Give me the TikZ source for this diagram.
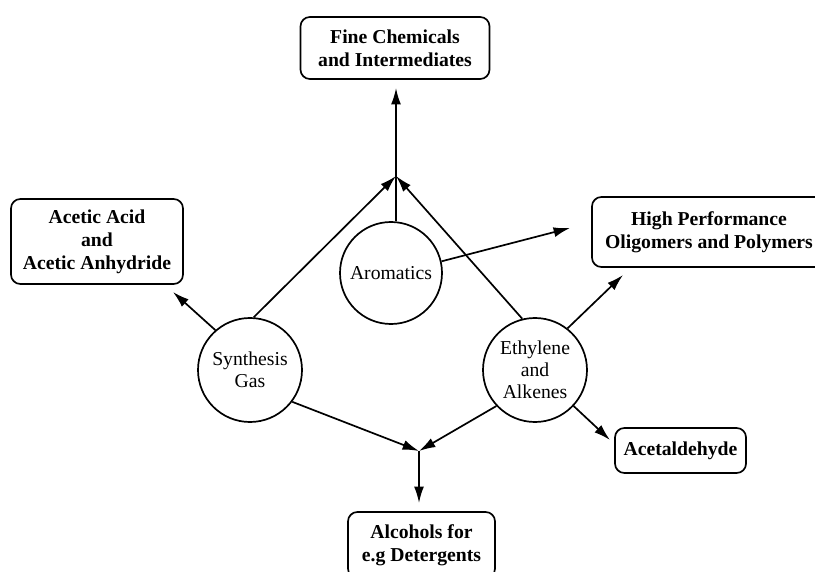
\documentclass[tikz,border=0pt]{standalone}
\usepackage{fontspec}
\setmainfont{Liberation Serif}
\usetikzlibrary{arrows.meta,positioning}

\begin{document}
\begin{tikzpicture}[x=0.03cm,y=-0.03cm,line width=1.45pt,>={Latex[length=14pt,width=8.5pt]},
  prod/.style={draw,rounded corners=8pt,align=center,inner sep=0pt,font=\fontsize{16.8}{19.5}\selectfont\bfseries},
  feed/.style={draw,circle,align=center,inner sep=0pt,font=\fontsize{16.8}{18.8}\selectfont}]
\useasboundingbox (0,0) rectangle (815,572);
% products
\node[prod,minimum width=5.67cm,minimum height=1.86cm] (fine) at (395,48) {Fine Chemicals\\and Intermediates};
\node[prod,minimum width=5.16cm,minimum height=2.55cm] (acetic) at (97,241.5) {Acetic Acid\\and\\Acetic Anhydride};
\node[prod,minimum width=7.02cm,minimum height=2.1cm] (hpp) at (709,232) {High Performance\\Oligomers and Polymers};
\node[prod,minimum width=3.93cm,minimum height=1.35cm] (acetald) at (680.5,450.5) {Acetaldehyde};
\node[prod,minimum width=4.41cm,minimum height=1.98cm] (alc) at (421.5,545) {Alcohols for\\e.g Detergents};
% feedstocks
\node[feed,minimum size=3.12cm] (syn) at (250,370) {Synthesis\\Gas};
\node[feed,minimum size=3.06cm] (arom) at (391,273) {Aromatics};
\node[feed,minimum size=3.12cm] (eth) at (535,370) {Ethylene\\and\\Alkenes};
% junctions and arrow ends
\coordinate (topj) at (396,176);
\coordinate (botj) at (419,451);
\coordinate (fine-in) at (396,88);
\coordinate (acetic-in) at (173,292);
\coordinate (hpp-in) at (570,228);
\coordinate (hpp-in2) at (623,275);
\coordinate (acetald-in) at (610,440);
\coordinate (alc-in) at (419,503);
% to the top
\draw[->] (syn.86) -- (topj);
\draw[->] (eth.104) -- (topj);
\draw (topj |- arom.north) -- (topj);
\draw[->] (topj) -- (fine-in);
% to the sides
\draw[->] (syn.131) -- (acetic-in);
\draw[->] (arom.13) -- (hpp-in);
\draw[->] (eth.52) -- (hpp-in2);
\draw[->] (eth.317) -- (acetald-in);
% to the bottom
\draw[->] (syn.-37) -- (botj);
\draw[->] (eth.223.5) -- (botj);
\draw[->] (botj) -- (alc-in);
\end{tikzpicture}
\end{document}
